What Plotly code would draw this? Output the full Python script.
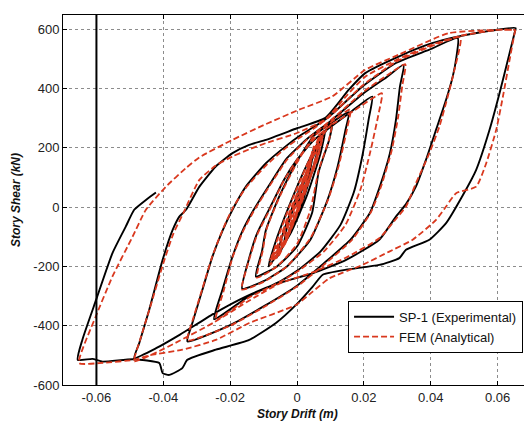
import plotly.graph_objects as go

# ---------------- data (drift m, shear kN) ----------------
exp_c1 = [(0, 0), (0.002, 80), (0.005, 200), (0.004, 130), (0.001, 10), (-0.002, -70), (-0.004, -130)]
exp_c2 = [(-0.003, -70), (0, 30), (0.003, 120), (0.007, 240), (0.0055, 160), (0.002, 30), (-0.002, -80), (-0.006, -170)]
exp_c3 = [(-0.0045, -100), (-0.001, 10), (0.003, 120), (0.0085, 262), (0.007, 180), (0.003, 40), (-0.002, -90), (-0.0085, -200)]
exp_c4 = [(-0.0065, -120), (-0.0025, 0), (0.002, 120), (0.006, 210), (0.0105, 285), (0.0097, 230), (0.0065, 120),
          (0.0045, -20), (0, -133), (-0.006, -200), (-0.0123, -234)]
exp_c5 = [(-0.0105, -150), (-0.0093, -77), (-0.0053, 36), (-0.0003, 148), (0.005, 240), (0.0097, 280), (0.0155, 320),
          (0.0145, 260), (0.012, 130), (0.009, 20), (0.004, -110), (-0.003, -200), (-0.01, -250), (-0.0164, -275)]
exp_c6 = [(-0.0145, -180), (-0.012, -90), (-0.008, 0), (-0.004, 90), (0, 160), (0.005, 225), (0.01, 270), (0.016, 320),
          (0.0225, 373), (0.0215, 300), (0.0195, 170), (0.017, 50), (0.013, -60), (0.007, -150), (0, -215),
          (-0.005, -250), (-0.0143, -300), (-0.0248, -378)]
exp_c7 = [(-0.0223, -279), (-0.0193, -167), (-0.0163, -80), (-0.013, -10), (-0.008, 80), (-0.003, 165), (0.003, 230),
          (0.01, 290), (0.02, 385), (0.027, 440), (0.0319, 480), (0.0308, 407), (0.0296, 294), (0.0278, 182),
          (0.0248, 70), (0.0218, -20), (0.016, -110), (0.008, -190), (0, -265), (-0.01, -335), (-0.02, -398),
          (-0.0328, -453)]
exp_c8 = [(-0.0313, -391), (-0.0283, -279), (-0.0253, -167), (-0.0223, -80), (-0.0193, -9), (-0.0153, 69),
          (-0.0093, 148), (-0.0035, 204), (0.0005, 238), (0.005, 270), (0.0097, 306), (0.0196, 407), (0.0296, 486),
          (0.0396, 531), (0.0481, 570), (0.0476, 500), (0.0466, 441), (0.0446, 362), (0.0416, 261), (0.0386, 160),
          (0.0356, 70), (0.0326, 10), (0.0296, -32), (0.0246, -110), (0.0147, -178), (0.0047, -223),
          (-0.0053, -256), (-0.015, -300), (-0.025, -360), (-0.035, -430), (-0.042, -475), (-0.0487, -509)]
exp_c9 = [(-0.0472, -459), (-0.0442, -346), (-0.0402, -178), (-0.0372, -77), (-0.0352, -32), (-0.0332, -9),
          (-0.0292, 69), (-0.0243, 137), (-0.0193, 182), (-0.0143, 210), (-0.0093, 227), (0, 266), (0.0085, 301),
          (0.0155, 396), (0.0204, 452), (0.0304, 508), (0.0404, 553), (0.048, 575), (0.055, 590), (0.0654, 604),
          (0.0651, 588), (0.0636, 520), (0.0606, 385), (0.0576, 261), (0.0536, 126), (0.0496, 40), (0.0446, -54),
          (0.0396, -110), (0.0326, -144), (0.0306, -172), (0.0246, -195), (0.0147, -211), (0.0077, -228),
          (0.0047, -268), (-0.0003, -330), (-0.0063, -391), (-0.0143, -448), (-0.0243, -481), (-0.0328, -515),
          (-0.0343, -543), (-0.0382, -566), (-0.0402, -560), (-0.0412, -526), (-0.049, -513), (-0.0582, -521),
          (-0.0612, -512), (-0.0656, -515)]
exp_c10 = [(-0.0642, -447), (-0.0601, -313), (-0.0552, -155), (-0.0512, -65), (-0.0487, -9), (-0.0451, 25),
           (-0.0422, 49)]

fem_c1 = [(0, 0), (0.002, 70), (0.004, 170), (0.0035, 120), (0.001, 20), (-0.0015, -60), (-0.003, -110)]
fem_c1b = [(-0.002, -60), (0.0005, 30), (0.003, 120), (0.005, 205), (0.004, 140), (0.0015, 30), (-0.002, -80), (-0.004, -135)]
fem_c2 = [(-0.003, -80), (0, 20), (0.003, 120), (0.0065, 235), (0.0055, 165), (0.002, 40), (-0.002, -80), (-0.0055, -165)]
fem_c2b = [(-0.0045, -110), (-0.001, 0), (0.003, 125), (0.007, 245), (0.006, 175), (0.002, 45), (-0.0025, -90), (-0.0065, -178)]
fem_c2c = [(-0.005, -115), (-0.0015, -5), (0.0025, 110), (0.0075, 240), (0.0062, 168), (0.0015, 30), (-0.003, -100), (-0.0075, -180)]
fem_c2d = [(-0.0055, -120), (-0.002, -10), (0.002, 100), (0.0077, 238), (0.0058, 150), (0.001, 20), (-0.0035, -110), (-0.0082, -178)]
fem_c3 = [(-0.005, -110), (-0.0015, 0), (0.003, 125), (0.008, 258), (0.0065, 185), (0.0025, 50), (-0.0025, -95), (-0.008, -195)]
fem_c4 = [(-0.0062, -120), (-0.002, 10), (0.0025, 130), (0.006, 215), (0.0105, 282), (0.0095, 225), (0.0065, 125),
          (0.004, -10), (0, -125), (-0.006, -200), (-0.012, -238)]
fem_c5 = [(-0.0103, -150), (-0.009, -70), (-0.005, 40), (0, 150), (0.005, 238), (0.01, 285), (0.016, 330),
          (0.015, 265), (0.0125, 140), (0.0093, 25), (0.004, -105), (-0.003, -200), (-0.01, -252), (-0.0165, -278)]
fem_c6 = [(-0.0145, -185), (-0.012, -95), (-0.008, -5), (-0.004, 88), (0, 160), (0.005, 228), (0.01, 275), (0.017, 325),
          (0.0254, 384), (0.0245, 320), (0.022, 190), (0.019, 60), (0.0145, -60), (0.008, -150), (0, -218),
          (-0.005, -252), (-0.0143, -305), (-0.0243, -380)]
fem_c7 = [(-0.022, -285), (-0.0193, -170), (-0.0163, -85), (-0.013, -15), (-0.008, 75), (-0.003, 160), (0.003, 228),
          (0.01, 292), (0.02, 390), (0.027, 445), (0.0324, 482), (0.0315, 410), (0.0302, 300), (0.0283, 190),
          (0.0253, 75), (0.0222, -15), (0.0165, -110), (0.008, -195), (0, -268), (-0.01, -338), (-0.02, -400),
          (-0.0328, -450)]
fem_c8 = [(-0.0313, -385), (-0.0283, -275), (-0.0253, -165), (-0.0223, -78), (-0.0193, -5), (-0.0153, 65),
          (-0.0093, 140), (-0.0035, 198), (0.0005, 232), (0.005, 265), (0.0097, 305), (0.0196, 410), (0.0296, 490),
          (0.0396, 540), (0.0489, 573), (0.0471, 463), (0.0451, 373), (0.0426, 272), (0.0396, 182), (0.0356, 81),
          (0.0326, 2), (0.0296, -40), (0.0246, -105), (0.0147, -170), (0.0047, -220), (-0.0053, -258),
          (-0.015, -320), (-0.025, -390), (-0.035, -450), (-0.042, -490), (-0.0487, -520)]
fem_c9 = [(-0.047, -450), (-0.044, -340), (-0.040, -190), (-0.037, -90), (-0.034, -20), (-0.0292, 92),
          (-0.0243, 140), (-0.0193, 171), (-0.0143, 195), (-0.0093, 216), (0, 250), (0.0085, 296), (0.015, 378),
          (0.0204, 440), (0.0304, 500), (0.0404, 548), (0.0489, 578), (0.0603, 598), (0.0653, 596), (0.0651, 587),
          (0.0636, 497), (0.0616, 373), (0.0596, 261), (0.0566, 148), (0.0536, 69), (0.0476, 47), (0.0446, 2),
          (0.0416, -43), (0.0346, -110), (0.0276, -150), (0.0196, -195), (0.0097, -240), (0.0047, -285),
          (-0.0003, -330), (-0.0143, -391), (-0.0243, -448), (-0.0343, -481), (-0.0442, -500), (-0.0487, -515),
          (-0.058, -525), (-0.0652, -526)]
fem_c10 = [(-0.0602, -369), (-0.0552, -234), (-0.0492, -100), (-0.0452, -9), (-0.0392, 69), (-0.0332, 132),
           (-0.0292, 168), (-0.0193, 227), (-0.0093, 280), (0.0005, 328), (0.0105, 373), (0.0204, 463),
           (0.0304, 514), (0.0454, 587), (0.0604, 598), (0.0653, 598)]

x_tick_vals = [-0.06, -0.04, -0.02, 0, 0.02, 0.04, 0.06]
x_tick_text = ["-0.06", "-0.04", "-0.02", "0", "0.02", "0.04", "0.06"]
y_tick_vals = [-600, -400, -200, 0, 200, 400, 600]
y_tick_text = ["-600", "-400", "-200", "0", "200", "400", "600"]
marker_drift = -0.06  # vertical reference line in the original figure

exp_cycles = [exp_c1, exp_c2, exp_c3, exp_c4, exp_c5, exp_c6, exp_c7, exp_c8, exp_c9, exp_c10]
fem_cycles = [fem_c1, fem_c1b, fem_c2, fem_c2b, fem_c2c, fem_c2d, fem_c3, fem_c4, fem_c5, fem_c6, fem_c7,
              fem_c8, fem_c9, fem_c10]


def unpack(cycles):
    xs, ys = [], []
    for c in cycles:
        for x, y in c:
            xs.append(x)
            ys.append(y)
    return xs, ys


ex, ey = unpack(exp_cycles)
fx, fy = unpack(fem_cycles)

RED = "#D9381E"
FONT = "Liberation Sans, Arial, sans-serif"

fig = go.Figure()
fig.add_trace(go.Scatter(x=ex, y=ey, mode="lines", name="SP-1 (Experimental)",
                         line=dict(color="black", width=1.9, shape="spline", smoothing=0.5)))
fig.add_trace(go.Scatter(x=fx, y=fy, mode="lines", name="FEM (Analytical)",
                         line=dict(color=RED, width=1.8, dash="6px,3px", shape="spline", smoothing=0.5)))

fig.add_shape(type="line", xref="x", yref="paper", x0=marker_drift, x1=marker_drift, y0=0, y1=1,
              line=dict(color="black", width=2))

axis_common = dict(showline=True, linecolor="black", linewidth=1, mirror="ticks", ticks="inside", ticklen=4,
                   tickcolor="black", showgrid=True, gridcolor="#8c8c8c", griddash="dot", gridwidth=1,
                   zeroline=False, tickfont=dict(family=FONT, size=13, color="#222"))

fig.update_xaxes(range=[-0.07, 0.07], tickvals=x_tick_vals, ticktext=x_tick_text, **axis_common)
fig.update_yaxes(range=[-600, 648], tickvals=y_tick_vals, ticktext=y_tick_text, **axis_common)

fig.add_annotation(text="<b><i>Story Drift (m)</i></b>", xref="paper", yref="paper", x=0.5, y=0,
                   yshift=-29, xanchor="center", yanchor="middle", showarrow=False,
                   font=dict(family=FONT, size=12, color="#111"))
fig.add_annotation(text="<b><i>Story Shear (kN)</i></b>", xref="paper", yref="paper", x=0, y=0.5,
                   xshift=-47, textangle=-90, xanchor="center", yanchor="middle", showarrow=False,
                   font=dict(family=FONT, size=12, color="#111"))

# the page body adds an 8px offset; the figure is sized so that it fills the window exactly
fig.update_layout(
    width=524, height=413,
    margin=dict(l=55, r=1, t=7, b=36),
    paper_bgcolor="white", plot_bgcolor="white",
    showlegend=True,
    legend=dict(x=0.983, y=0.087, xanchor="right", yanchor="bottom", bgcolor="white",
                bordercolor="black", borderwidth=1, font=dict(family=FONT, size=13, color="#111"),
                tracegroupgap=0, itemwidth=40),
)

fig.write_html("out.html")
